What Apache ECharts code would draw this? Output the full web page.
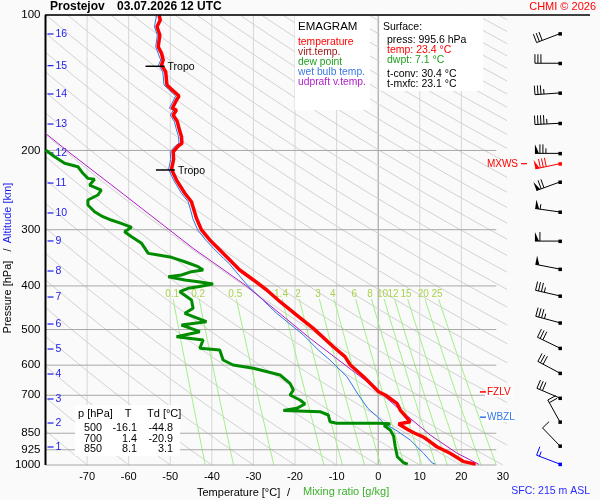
<!DOCTYPE html>
<html>
<head>
<meta charset="utf-8">
<script src="https://cdn.jsdelivr.net/npm/echarts@6/dist/echarts.min.js"></script>
<style>
html, body { margin: 0; padding: 0; background: #fafafa; }
#chart { width: 600px; height: 500px; }
</style>
</head>
<body>
<div id="chart"></div>
<script>
var pressureLevels = [100, 200, 300, 400, 500, 600, 700, 850, 925, 1000];
var isotherms = [-70, -60, -50, -40, -30, -20, -10, 0, 10, 20];
var mixingRatios = [0.1, 0.2, 0.5, 1.4, 2, 3, 4, 6, 8, 10, 12, 15, 20, 25];

var altKm = [1, 2, 3, 4, 5, 6, 7, 8, 9, 10, 11, 12, 13, 14, 15, 16];
var altP = [912, 806.7, 713.4, 627.8, 552.5, 486.1, 423.4, 370.6, 317.8, 275.4, 236.3, 202.6, 174.7, 149.8, 129.6, 110.2];

var tempP = [100, 102.6, 106.2, 110.8, 117.6, 121.6, 125.9, 129.2, 133.7, 143.1, 146.3, 151.4, 154.5, 161.2, 162.6, 166.8, 172.6, 178.6, 186.4, 192.8, 195.5, 201.3, 209.3, 220.3, 232.7, 249, 260, 271.3, 283, 300.3, 316.2, 330, 347.3, 368.7, 388, 408.4, 433.6, 464.2, 497, 546, 574.4, 599.5, 636.6, 687.2, 700, 729.3, 754.8, 801.3, 810.8, 836, 850, 866, 888, 910.8, 941.9, 983, 995.6];
var tempT = [-52.7, -52.4, -53.2, -52.5, -52.9, -52.1, -51.7, -52.1, -51.1, -50.8, -49.7, -47.9, -48.5, -49.5, -48.5, -49.3, -48.3, -47.9, -47.3, -47.2, -48.1, -49.3, -49.2, -49.7, -48.5, -46.5, -44.9, -44.3, -43.7, -42.5, -40.5, -38.5, -36.1, -33.3, -30.0, -26.8, -23.6, -19.6, -15.6, -10.8, -8.0, -6.7, -3.5, 0.1, 1.8, 4.5, 5.3, 7.7, 4.9, 7.3, 8.8, 10.8, 12.5, 14.1, 17.3, 20.6, 23.4];

var dewP = [199.5, 206.5, 213.6, 217.4, 224.8, 230.7, 231.8, 238.7, 244.9, 251.2, 257.7, 264.4, 273.6, 280.7, 285.5, 290.4, 296.4, 303.1, 305.6, 311, 321.7, 338.6, 341.5, 345.5, 353.4, 362.5, 368.7, 371.9, 378.3, 381.6, 388.1, 391.5, 396.1, 401.6, 404.9, 412, 429.9, 448.6, 460.2, 480.4, 488.6, 505.6, 518.7, 527.6, 550.5, 555.3, 584.4, 599.5, 609.7, 631, 658.4, 681.3, 699, 717.1, 731.8, 748.2, 756.7, 761.4, 774.3, 801.3, 807.9, 807.9, 810, 817, 836, 862, 910.8, 958.5, 988.6, 995.6];
var dewT = [-80, -77.8, -75.4, -72.2, -71.0, -69.8, -68.2, -69.4, -66.6, -67.4, -69.8, -69.8, -68.2, -66.2, -64.2, -61.8, -59.3, -61.0, -61.4, -59.3, -56.9, -55.3, -52.9, -49.7, -46.5, -43.3, -42.1, -44.9, -47.3, -50.5, -46.5, -43.3, -39.7, -43.3, -45.7, -47.7, -44.9, -44.5, -46.5, -41.3, -47.3, -42.9, -48.5, -42.1, -42.9, -38.1, -37.3, -34.9, -30.0, -23.6, -21.2, -20.4, -21.2, -18.8, -17.6, -19.6, -22.8, -14.0, -12.0, -11.6, -10.0, 0.1, 2.9, 1.4, 2.9, 3.7, 4.1, 4.6, 6.1, 7.1];

var wetP = [100, 106.2, 110.8, 117.6, 125.9, 129.2, 133.7, 143.1, 146.3, 151.4, 154.5, 161.2, 162.6, 166.8, 172.6, 178.6, 186.4, 192.8, 195.5, 201.3, 209.3, 220.3, 232.7, 249, 260, 271.3, 283, 300.3, 316.2, 330, 347.3, 356.4, 398.1, 460.2, 514, 555.3, 584.4, 636.6, 695.4, 748.2, 781, 807.9, 840.4, 880, 941.9, 989.9, 995.6];
var wetT = [-53.3, -53.8, -53.1, -53.5, -52.3, -52.8, -51.8, -51.5, -50.4, -48.7, -49.2, -50.2, -49.2, -50.0, -49.0, -48.6, -48.0, -47.9, -48.8, -50.0, -49.9, -50.4, -49.2, -47.3, -45.7, -45.1, -44.6, -43.4, -41.5, -39.6, -37.2, -35.9, -31.5, -24.4, -18.0, -14.4, -11.6, -7.5, -4.9, -2.5, -0.2, 1.4, 4.6, 7.7, 10.9, 13.0, 13.7];

var parcelP = [183.2, 200, 250, 330, 398.1, 522.9, 669.9, 754.8, 857.7, 941.9, 996.4];
var parcelT = [-80, -74.9, -61.3, -44.5, -32.0, -16.4, -1.1, 5.3, 12.5, 19.0, 24.2];

var windP = [110, 128, 149, 174, 203, 214, 235, 274, 318, 367, 421, 483, 550, 625, 710, 802, 907, 995.6];
var windSpd = [30, 30, 35, 45, 75, 80, 70, 55, 60, 50, 35, 35, 30, 30, 30, 20, 10, 15];
var windDir = [249, 270, 266, 267, 270, 258, 250, 278, 270, 281, 283, 285, 296, 298, 293, 331, 316, 291];
var mxwsIndex = 5;

var tropoP = [130, 221];
var tropoT = [-52.1, -49.6];

var levelNames = ['FZLV', 'WBZL', 'MXWS'];
var levelP = [688, 783, 214];
var levelColors = ['#ff0000', '#3377e8', '#ff0000'];

var tableP = [500, 700, 850];
var tableT = ['-16.1', '1.4', '8.1'];
var tableTd = ['-44.8', '-20.9', '3.1'];

var sfcPress = '995.6', sfcTemp = '23.4', sfcDwpt = '7.1', tConv = '30.4', tMxfc = '23.1';

// --- drawing helpers ---
var FONT = '"Liberation Sans", Arial, sans-serif';
var KAPPA = 0.2857;
var T_LEFT = -80, T_CLIP = 31, BARB_T = 43.7;

function txt(x, y, s, fill, size, align, weight, rot) {
    var el = {
        type: 'text', x: x, y: y,
        style: {
            text: s, fill: fill, font: (weight || 'normal') + ' ' + size + 'px ' + FONT,
            align: align || 'left', verticalAlign: 'middle',
            textAlign: align || 'left', textVerticalAlign: 'middle'
        }
    };
    if (rot) el.rotation = rot;
    return el;
}
function seg(a, b, color, w) {
    return { type: 'line', shape: { x1: a[0], y1: a[1], x2: b[0], y2: b[1] }, style: { stroke: color, lineWidth: w } };
}
function zip(ts, ps) {
    return ts.map(function (t, i) { return [t, ps[i]]; });
}
function dewFromMix(w, p) {
    var e = w * p / (622 + w);
    var l = Math.log(e / 6.112);
    return 243.5 * l / (17.67 - l);
}

var dryThetas = [];
for (var k = -9; k <= 32; k++) dryThetas.push(273.15 + 10 * k);

var chart = echarts.init(document.getElementById('chart'));

var option = {
    backgroundColor: '#fafafa',
    animation: false,
    grid: { left: 45.5, top: 15, width: 524, height: 450 },
    xAxis: {
        type: 'value', min: -80, max: 46, interval: 10,
        axisLine: { show: false }, axisTick: { show: false }, splitLine: { show: false },
        axisLabel: {
            color: '#000', fontSize: 11, fontFamily: FONT, margin: 6,
            formatter: function (v) { return (v >= -70 && v <= 30) ? String(v) : ''; }
        }
    },
    yAxis: {
        type: 'log', logBase: 10, min: 100, max: 1000, inverse: true, show: false
    },
    series: [
        {   // isotherms
            type: 'custom', silent: true, z: 1,
            data: isotherms.map(function (t) { return [t, 1000]; }),
            renderItem: function (params, api) {
                var t = api.value(0);
                return seg(api.coord([t, 100]), api.coord([t, 1000]), t === 0 ? '#999999' : '#d6d6d6', 1);
            }
        },
        {   // dry adiabats
            type: 'custom', silent: true, z: 1,
            data: dryThetas.map(function (th) { return [0, 500]; }),
            renderItem: function (params, api) {
                var th = dryThetas[params.dataIndex];
                var pLo = Math.max(100, 1000 * Math.pow((T_LEFT + 273.15) / th, 1 / KAPPA));
                var pHi = Math.min(1000, 1000 * Math.pow((T_CLIP + 273.15) / th, 1 / KAPPA));
                if (pHi <= pLo) return { type: 'group', children: [] };
                var pts = [];
                for (var j = 0; j <= 30; j++) {
                    var p = pLo * Math.pow(pHi / pLo, j / 30);
                    pts.push(api.coord([th * Math.pow(p / 1000, KAPPA) - 273.15, p]));
                }
                return { type: 'polyline', shape: { points: pts }, style: { stroke: '#d2d2d2', lineWidth: 1, fill: 'none' } };
            }
        },
        {   // mixing ratio lines
            type: 'custom', silent: true, z: 2,
            data: mixingRatios.map(function (w) { return [0, 500]; }),
            renderItem: function (params, api) {
                var w = mixingRatios[params.dataIndex];
                var pts = [];
                for (var j = 0; j <= 8; j++) {
                    var p = 428 * Math.pow(1000 / 428, j / 8);
                    pts.push(api.coord([dewFromMix(w, p), p]));
                }
                var lab = api.coord([dewFromMix(w, 417), 417]);
                return { type: 'group', children: [
                    { type: 'polyline', shape: { points: pts }, style: { stroke: '#a4f088', lineWidth: 1, fill: 'none' } },
                    txt(lab[0], lab[1], String(w), '#a8d44c', 10, 'center')
                ] };
            }
        },
        {   // isobars and pressure labels
            type: 'custom', silent: true, z: 2,
            data: pressureLevels.map(function (p) { return [-80, p]; }),
            renderItem: function (params, api) {
                var p = api.value(1);
                var a = api.coord([-80, p]), b = api.coord([28.4, p]);
                return { type: 'group', children: [
                    seg(a, b, '#a8a8a8', 1),
                    txt(a[0] - 5, a[1], String(p), '#000', 11.5, 'right')
                ] };
            }
        },
        {   // left axis
            type: 'line', silent: true, symbol: 'none', z: 3,
            lineStyle: { color: '#000', width: 2 },
            data: [[-80, 100], [-80, 1000]]
        },
        {   // altitude marks
            type: 'custom', silent: true, z: 3,
            data: altP.map(function (p) { return [-80, p]; }),
            renderItem: function (params, api) {
                var a = api.coord([-80, api.value(1)]);
                return { type: 'group', children: [
                    seg([a[0] + 2, a[1]], [a[0] + 8, a[1]], '#1a1aee', 1.2),
                    txt(a[0] + 10, a[1], String(altKm[params.dataIndex]), '#1a1aee', 10.5, 'left')
                ] };
            }
        },
        {
            name: 'virt.temp.', type: 'line', silent: true, symbol: 'none', z: 4,
            lineStyle: { color: '#a01818', width: 1 }, data: zip(tempT, tempP)
        },
        {
            name: 'wet bulb temp.', type: 'line', silent: true, symbol: 'none', z: 4,
            lineStyle: { color: '#2f74e4', width: 1 }, data: zip(wetT, wetP)
        },
        {
            name: 'udpraft v.temp.', type: 'line', silent: true, symbol: 'none', z: 4,
            lineStyle: { color: '#b01cc4', width: 1 }, data: zip(parcelT, parcelP)
        },
        {
            name: 'dew point', type: 'line', silent: true, symbol: 'none', z: 5,
            lineStyle: { color: '#008c00', width: 3 }, data: zip(dewT, dewP)
        },
        {
            name: 'temperature', type: 'line', silent: true, symbol: 'none', z: 6,
            lineStyle: { color: '#ff0000', width: 3.5 }, data: zip(tempT, tempP)
        },
        {   // tropopause marks
            type: 'custom', silent: true, z: 7,
            data: zip(tropoT, tropoP),
            renderItem: function (params, api) {
                var a = api.coord([api.value(0), api.value(1)]);
                return { type: 'group', children: [
                    seg([a[0] - 16, a[1]], [a[0] + 3, a[1]], '#000', 1.5),
                    txt(a[0] + 6, a[1] + 1, 'Tropo', '#000', 10.5, 'left')
                ] };
            }
        },
        {   // level labels
            type: 'custom', silent: true, z: 7,
            data: levelP.map(function (p) { return [0, p]; }),
            renderItem: function (params, api) {
                var i = params.dataIndex;
                var y = api.coord([0, api.value(1)])[1];
                var c = levelColors[i];
                if (levelNames[i] === 'MXWS') {
                    return { type: 'group', children: [
                        seg([521, y], [527, y], c, 1.2),
                        txt(518, y + 0.5, levelNames[i], c, 10, 'right')
                    ] };
                }
                return { type: 'group', children: [
                    { type: 'rect', shape: { x: 485, y: y - 5, width: 28, height: 10 }, style: { fill: '#ffffff' } },
                    seg([480, y], [486, y], c, 1.5),
                    txt(487, y + 0.5, levelNames[i], c, 10, 'left')
                ] };
            }
        },
        {   // wind barbs
            type: 'custom', silent: true, z: 8,
            data: windP.map(function (p) { return [BARB_T, p]; }),
            renderItem: function (params, api) {
                var i = params.dataIndex;
                var o = api.coord([BARB_T, windP[i]]);
                var a = windDir[i] * Math.PI / 180;
                var sx = Math.sin(a), sy = -Math.cos(a);
                var nx = -sy, ny = sx;
                var col = i === mxwsIndex ? '#ff0000' : (i === windP.length - 1 ? '#0000ff' : '#000000');
                var L = 25;
                var tip = [o[0] + sx * L, o[1] + sy * L];
                var kids = [
                    { type: 'rect', shape: { x: o[0] - 1.5, y: o[1] - 1.5, width: 3.5, height: 3.5 }, style: { fill: col } },
                    seg(o, tip, col, 1)
                ];
                function at(d) { return [tip[0] - sx * d, tip[1] - sy * d]; }
                var v = Math.round(windSpd[i] / 5) * 5, d = 0, q;
                while (v >= 50) {
                    var b0 = at(d), b1 = at(d + 4);
                    kids.push({ type: 'polygon', shape: { points: [b0, [b0[0] + nx * 9, b0[1] + ny * 9], b1] }, style: { fill: col } });
                    d += 5; v -= 50;
                }
                while (v >= 10) {
                    q = at(d);
                    kids.push(seg(q, [q[0] + nx * 9, q[1] + ny * 9], col, 1));
                    d += 3; v -= 10;
                }
                if (v >= 5) {
                    q = at(d);
                    kids.push(seg(q, [q[0] + nx * 5, q[1] + ny * 5], col, 1));
                }
                return { type: 'group', children: kids };
            }
        }
    ]
};

// --- static texts and boxes ---
var g = [];
g.push({ type: 'line', shape: { x1: 45, y1: 15, x2: 590, y2: 15 }, style: { stroke: '#000', lineWidth: 1.5 } });
g.push(txt(50, 7, 'Prostejov', '#000', 12, 'left', 'bold'));
g.push(txt(117, 7, '03.07.2026 12 UTC', '#000', 12, 'left', 'bold'));
g.push(txt(596, 7, 'CHMI \u00a9 2026', '#ff0000', 11, 'right'));

g.push({ type: 'rect', shape: { x: 295, y: 16, width: 75, height: 94 }, style: { fill: '#ffffff' } });
g.push(txt(298, 26.5, 'EMAGRAM', '#000', 11.5, 'left'));
var legNames = ['temperature', 'virt.temp.', 'dew point', 'wet bulb temp.', 'udpraft v.temp.'];
var legColors = ['#ff0000', '#a01818', '#22a022', '#3a7ae2', '#b020c8'];
legNames.forEach(function (n, i) { g.push(txt(298, 42 + i * 10, n, legColors[i], 10.3, 'left')); });

g.push({ type: 'rect', shape: { x: 380, y: 16, width: 103, height: 75 }, style: { fill: '#ffffff' } });
g.push(txt(383, 27, 'Surface:', '#000', 10.5, 'left'));
g.push(txt(387, 40, 'press: ' + sfcPress + ' hPa', '#000', 10.5, 'left'));
g.push(txt(387, 50, 'temp: ' + sfcTemp + ' \u00b0C', '#ff0000', 10.5, 'left'));
g.push(txt(387, 60, 'dwpt: ' + sfcDwpt + ' \u00b0C', '#22a022', 10.5, 'left'));
g.push(txt(387, 74, 't-conv: ' + tConv + ' \u00b0C', '#000', 10.5, 'left'));
g.push(txt(387, 84, 't-mxfc: ' + tMxfc + ' \u00b0C', '#000', 10.5, 'left'));

g.push({ type: 'rect', shape: { x: 75, y: 405, width: 105, height: 51 }, style: { fill: '#ffffff' } });
g.push(txt(78, 414, 'p [hPa]', '#000', 11, 'left'));
g.push(txt(128, 414, 'T', '#000', 11, 'center'));
g.push(txt(147, 414, 'Td [\u00b0C]', '#000', 11, 'left'));
tableP.forEach(function (p, i) {
    var y = 428.3 + i * 10.3;
    g.push(txt(102, y, String(p), '#000', 10.8, 'right'));
    g.push(txt(137, y, tableT[i], '#000', 10.8, 'right'));
    g.push(txt(173, y, tableTd[i], '#000', 10.8, 'right'));
});

g.push(txt(197, 493, 'Temperature [\u00b0C]', '#000', 11, 'left'));
g.push(txt(287, 493, '/', '#000', 11, 'left'));
g.push(txt(303, 492, 'Mixing ratio [g/kg]', '#3cb02c', 11, 'left'));
g.push(txt(590, 491, 'SFC: 215 m ASL', '#2a2aff', 10.5, 'right'));

g.push(txt(8, 297, 'Pressure [hPa]', '#000', 11, 'center', 'normal', Math.PI / 2));
g.push(txt(8, 250, '/', '#000', 11, 'center', 'normal', Math.PI / 2));
g.push(txt(8, 213, 'Altitude [km]', '#1a1aee', 11, 'center', 'normal', Math.PI / 2));

g.forEach(function (el) { el.z = 100; el.silent = true; });
option.graphic = { elements: g };

chart.setOption(option);
</script>
</body>
</html>
